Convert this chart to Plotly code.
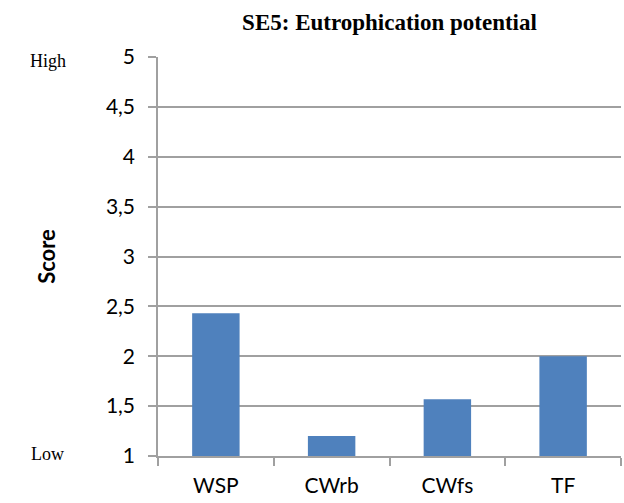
import plotly.graph_objects as go

# Eutrophication potential scores per treatment system
systems = ["WSP", "CWrb", "CWfs", "TF"]
scores = [2.43, 1.2, 1.57, 2.0]
tick_vals = [1, 1.5, 2, 2.5, 3, 3.5, 4, 4.5, 5]
tick_text = ["1", "1,5", "2", "2,5", "3", "3,5", "4", "4,5", "5"]

grid = "#a0a0a0"
sans = "Lato, Open Sans, sans-serif"
serif = "Liberation Serif, Times New Roman, serif"
label_font = dict(family=sans, size=21, color="#000000")

fig = go.Figure(
    go.Bar(
        x=systems,
        y=scores,
        marker=dict(color="#4f81bd", line=dict(width=0)),
        width=0.41,
    )
)

fig.update_layout(
    width=624,
    height=503,
    margin=dict(l=158, r=3, t=57, b=47),
    paper_bgcolor="white",
    plot_bgcolor="white",
    showlegend=False,
    title=dict(
        text="<b>SE5: Eutrophication potential</b>",
        font=dict(family=serif, size=23, color="#000000"),
        x=(158 + 621) / 2 / 624,
        xanchor="center",
        y=1 - 22 / 503,
        yanchor="middle",
    ),
    xaxis=dict(
        type="category",
        tickson="boundaries",
        ticks="outside",
        ticklen=8,
        tickcolor=grid,
        tickwidth=1.5,
        showline=True,
        linecolor=grid,
        linewidth=1.5,
        showgrid=False,
        tickfont=label_font,
        ticklabelstandoff=10,
    ),
    yaxis=dict(
        range=[1, 5],
        tickmode="array",
        tickvals=tick_vals,
        ticktext=tick_text,
        ticks="outside",
        ticklen=8,
        tickcolor=grid,
        tickwidth=1.5,
        showline=True,
        linecolor=grid,
        linewidth=1.5,
        showgrid=True,
        gridcolor=grid,
        gridwidth=1.5,
        zeroline=False,
        tickfont=label_font,
        ticklabelstandoff=9,
        title=dict(
            text="<b>Score</b>",
            font=dict(family=sans, size=22, color="#000000"),
            standoff=44,
        ),
    ),
    annotations=[
        dict(
            text="High", x=-0.238, y=5, xref="paper", yref="y", yshift=-4,
            showarrow=False, xanchor="center", yanchor="middle",
            font=dict(family=serif, size=18, color="#000000"),
        ),
        dict(
            text="Low", x=-0.238, y=1, xref="paper", yref="y", yshift=2,
            showarrow=False, xanchor="center", yanchor="middle",
            font=dict(family=serif, size=18, color="#000000"),
        ),
    ],
)

fig.write_html("out.html")
